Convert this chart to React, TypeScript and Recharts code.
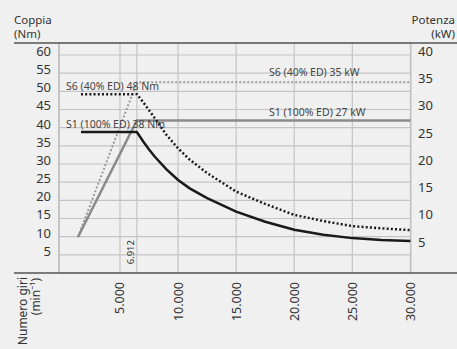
import React from "react";
import { ComposedChart, Line, XAxis, YAxis, CartesianGrid, ReferenceLine } from "recharts";

// ---- data ----
const torqueRpm = [1640, 6450, 7000, 7500, 8000, 9000, 10000, 11000, 12500, 15000, 17500, 20000, 22500, 25000, 27500, 30000];
const s1Torque = [38.8, 38.8, 36.2, 34.0, 32.0, 28.5, 25.6, 23.3, 20.6, 16.9, 14.1, 11.9, 10.5, 9.6, 9.1, 8.8];
const s6Torque = [49.2, 49.2, 47.0, 44.8, 42.6, 38.0, 34.3, 31.2, 27.5, 22.4, 19.0, 16.0, 14.3, 12.9, 12.3, 11.8];
const powerRpm = [1385, 6450, 30000];
const s1Power = [6.6, 28, 28];
const s6Power = [6.6, 35, 35];

const xTicks = [5000, 6450, 10000, 15000, 20000, 25000, 30000];
const xTickLabels = ["5.000", "6.912", "10.000", "15.000", "20.000", "25.000", "30.000"];
const nmTicks = [5, 10, 15, 20, 25, 30, 35, 40, 45, 50, 55, 60];
const kwTicks = [5, 10, 15, 20, 25, 30, 35, 40];

const s1TorqueData = torqueRpm.map((r, i) => ({ rpm: r, v: s1Torque[i] }));
const s6TorqueData = torqueRpm.map((r, i) => ({ rpm: r, v: s6Torque[i] }));
const s1PowerData = powerRpm.map((r, i) => ({ rpm: r, v: s1Power[i] }));
const s6PowerData = powerRpm.map((r, i) => ({ rpm: r, v: s6Power[i] }));

const FONT = '"Noto Sans", sans-serif';
const TXT = "#333";

const LeftTick = (props: any) => {
  const { y, payload } = props;
  return (
    <text x={51} y={y - 4} textAnchor="end" dominantBaseline="central" fontSize={13} fill={TXT} fontFamily={FONT}>
      {payload.value}
    </text>
  );
};

const RightTick = (props: any) => {
  const { y, payload } = props;
  return (
    <text x={418} y={y - 4} textAnchor="start" dominantBaseline="central" fontSize={13} fill={TXT} fontFamily={FONT}>
      {payload.value}
    </text>
  );
};

const BottomTick = (props: any) => {
  const { x, payload, index } = props;
  const i = xTicks.indexOf(payload.value);
  const label = xTickLabels[i >= 0 ? i : index];
  if (payload.value === 6450) {
    const tx = x - 6.5;
    const ty = 240;
    return (
      <text x={tx} y={ty} transform={`rotate(-90, ${tx}, ${ty})`} textAnchor="end" dominantBaseline="central" fontSize={9.5} fill={TXT} fontFamily={FONT}>
        {label}
      </text>
    );
  }
  const ty = 282;
  return (
    <text x={x} y={ty} transform={`rotate(-90, ${x}, ${ty})`} textAnchor="end" dominantBaseline="central" fontSize={12.5} fill={TXT} fontFamily={FONT}>
      {label}
    </text>
  );
};

export default function App() {
  return (
    <div style={{ position: "absolute", left: 0, top: 0, width: 457, height: 349, background: "#f0f0f0", overflow: "hidden" }}>
      <ComposedChart width={457} height={349} margin={{ top: 43, right: 0, bottom: 0, left: 0 }}>
        <CartesianGrid stroke="#c4c4c4" strokeWidth={1.2} yAxisId="nm" />
        <XAxis
          dataKey="rpm"
          type="number"
          domain={[-250, 30050]}
          ticks={xTicks}
          allowDataOverflow
          height={76}
          axisLine={false}
          tickLine={false}
          tick={<BottomTick />}
          interval={0}
        />
        <YAxis yAxisId="nm" type="number" domain={[0, 63.3]} ticks={nmTicks} width={59} axisLine={false} tickLine={false} tick={<LeftTick />} interval={0} />
        <YAxis yAxisId="kw" orientation="right" type="number" domain={[0, 42.2]} ticks={kwTicks} width={46} axisLine={false} tickLine={false} tick={<RightTick />} interval={0} />
        <ReferenceLine yAxisId="nm" x={-250} stroke="#bdbdbd" strokeWidth={1.5} />
        <Line yAxisId="kw" data={s6PowerData} dataKey="v" type="linear" stroke="#9a9a9a" strokeWidth={2} strokeDasharray="2 2" dot={false} isAnimationActive={false} />
        <Line yAxisId="kw" data={s1PowerData} dataKey="v" type="linear" stroke="#8a8a8a" strokeWidth={2.5} dot={false} isAnimationActive={false} />
        <Line yAxisId="nm" data={s6TorqueData} dataKey="v" type="linear" stroke="#1a1a1a" strokeWidth={2.5} strokeDasharray="2 2.2" dot={false} isAnimationActive={false} />
        <Line yAxisId="nm" data={s1TorqueData} dataKey="v" type="linear" stroke="#1a1a1a" strokeWidth={2.5} dot={false} isAnimationActive={false} />
      </ComposedChart>
      <svg width={457} height={349} style={{ position: "absolute", left: 0, top: 0, pointerEvents: "none" }} fontFamily={FONT}>
        <line x1={14} y1={43} x2={457} y2={43} stroke="#555" strokeWidth={1.5} />
        <line x1={14} y1={273} x2={457} y2={273} stroke="#555" strokeWidth={1.5} />
        <text x={14} y={24} fontSize={11.5} fill={TXT}>Coppia</text>
        <text x={14} y={38} fontSize={11.5} fill={TXT}>(Nm)</text>
        <text x={455} y={24} fontSize={11.5} fill={TXT} textAnchor="end">Potenza</text>
        <text x={455} y={38} fontSize={11.5} fill={TXT} textAnchor="end">(kW)</text>
        <text x={22} y={277} transform="rotate(-90, 22, 277)" fontSize={12} fill={TXT} textAnchor="end" dominantBaseline="central">Numero giri</text>
        <text x={35} y={278} transform="rotate(-90, 35, 278)" fontSize={12} fill={TXT} textAnchor="end" dominantBaseline="central">(min⁻¹)</text>
        <text x={66} y={90} fontSize={10.5} fill="#444">S6 (40% ED) 48 Nm</text>
        <text x={66} y={128} fontSize={10.5} fill="#444">S1 (100% ED) 38 Nm</text>
        <text x={269} y={76} fontSize={10.5} fill="#444">S6 (40% ED) 35 kW</text>
        <text x={269} y={115.5} fontSize={10.5} fill="#444">S1 (100% ED) 27 kW</text>
      </svg>
    </div>
  );
}
